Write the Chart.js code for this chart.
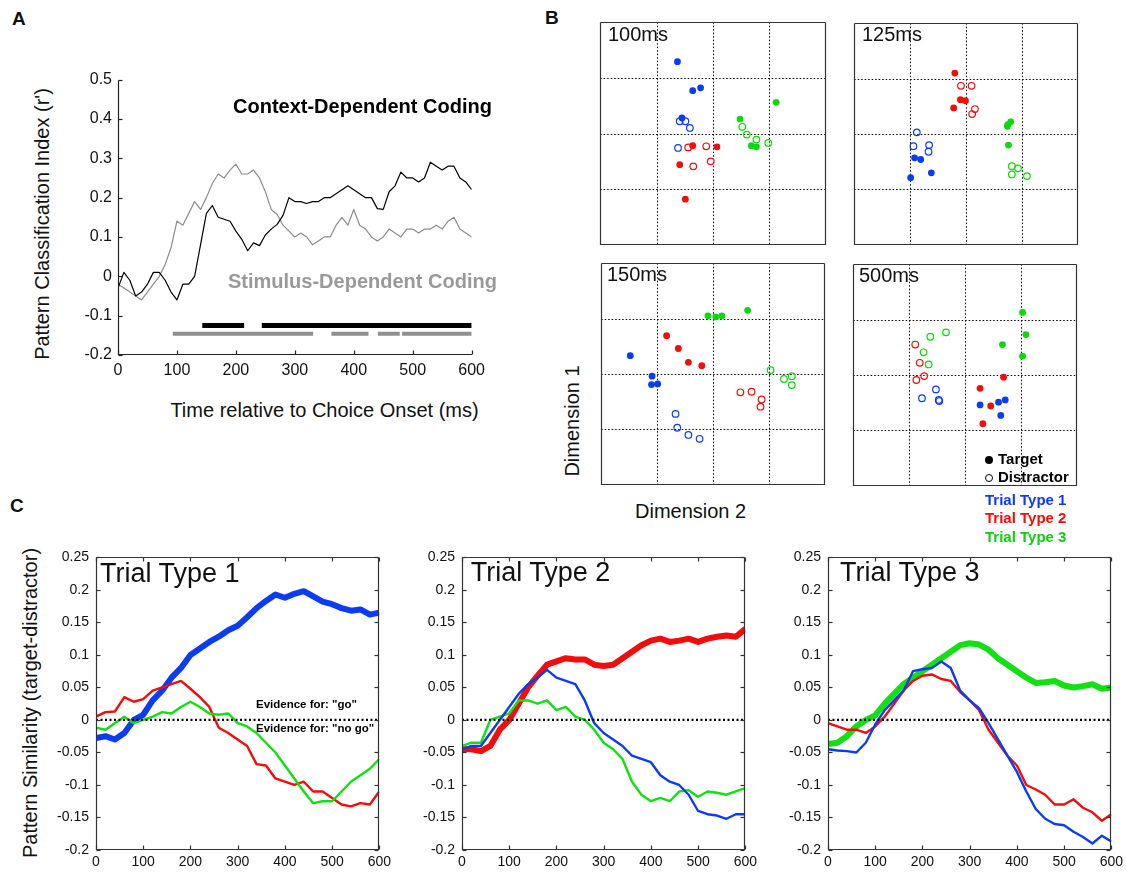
<!DOCTYPE html>
<html>
<head>
<meta charset="utf-8">
<script src="https://cdn.jsdelivr.net/npm/chart.js@4.4.0/dist/chart.umd.min.js"></script>
<style>
body { margin: 0; background: #fff; width: 1126px; height: 874px; position: relative; overflow: hidden;
  font-family: "Liberation Sans", Arial, sans-serif; color: #111; }
canvas { position: absolute; }
.t { position: absolute; white-space: nowrap; line-height: 1; }
.dot { position: absolute; width: 8px; height: 8px; border-radius: 50%; box-sizing: border-box; }
</style>
</head>
<body>
<canvas id="pA"></canvas>
<canvas id="b100"></canvas>
<canvas id="b125"></canvas>
<canvas id="b150"></canvas>
<canvas id="b500"></canvas>
<canvas id="c1"></canvas>
<canvas id="c2"></canvas>
<canvas id="c3"></canvas>
<script>
const FONT = '"Liberation Sans", Arial, sans-serif';
const BLUE = '#0c3cf2', RED = '#f20d0d', GREEN = '#12e012', GRAY = '#8c8c8c';

// ---- panel A ----
const timeA = [0, 10, 20, 30, 40, 50, 60, 70, 80, 90, 100, 110, 120, 130, 140, 150, 160, 170, 180, 190,
  200, 210, 220, 230, 240, 250, 260, 270, 280, 290, 300, 310, 320, 330, 340, 350, 360, 370, 380, 390,
  400, 410, 420, 430, 440, 450, 460, 470, 480, 490, 500, 510, 520, 530, 540, 550, 560, 570, 580, 590, 600];
const contextA = [-0.03, 0.01, -0.01, -0.05, -0.04, -0.02, 0.01, 0.01, -0.01, -0.04, -0.06, -0.02, -0.02, 0.0, 0.08, 0.16, 0.18, 0.15, 0.145, 0.14,
  0.115, 0.094, 0.065, 0.085, 0.078, 0.105, 0.12, 0.132, 0.155, 0.2, 0.19, 0.19, 0.185, 0.19, 0.19, 0.2, 0.2, 0.21, 0.22, 0.23,
  0.22, 0.21, 0.2, 0.2, 0.172, 0.17, 0.215, 0.23, 0.265, 0.25, 0.25, 0.24, 0.25, 0.29, 0.28, 0.27, 0.28, 0.28, 0.25, 0.24, 0.22];
const stimulusA = [-0.02, -0.03, -0.04, -0.05, -0.06, -0.04, -0.02, 0.0, 0.03, 0.073, 0.14, 0.13, 0.16, 0.19, 0.17, 0.2, 0.236, 0.26, 0.25, 0.27,
  0.285, 0.26, 0.26, 0.27, 0.25, 0.215, 0.17, 0.157, 0.13, 0.115, 0.1, 0.11, 0.1, 0.08, 0.09, 0.1, 0.1, 0.13, 0.15, 0.13,
  0.17, 0.13, 0.12, 0.1, 0.09, 0.1, 0.12, 0.11, 0.1, 0.12, 0.12, 0.11, 0.12, 0.12, 0.13, 0.12, 0.14, 0.15, 0.12, 0.11, 0.1];
const sigContext = [[143, 214], [244, 600]];
const sigStimulus = [[93, 331], [362, 425], [441, 478], [482, 600]];
const xTicksA = [0, 100, 200, 300, 400, 500, 600];
const yTicksA = [-0.2, -0.1, 0, 0.1, 0.2, 0.3, 0.4, 0.5];

// ---- panel B (x = Dimension 2, y = Dimension 1) ----
const b100Target1 = [[-0.63, 1.29], [-0.36, 0.77], [-0.22, 0.82], [-0.55, 0.28]];
const b100Distr1 = [[-0.59, 0.22], [-0.49, 0.22], [-0.41, 0.1], [-0.62, -0.26]];
const b100Target2 = [[-0.36, -0.22], [0.07, -0.24], [-0.59, -0.56], [-0.49, -1.18]];
const b100Distr2 = [[-0.44, -0.25], [-0.12, -0.23], [-0.04, -0.5], [-0.35, -0.59]];
const b100Target3 = [[1.12, 0.56], [0.48, 0.26], [0.68, -0.22], [0.77, -0.24]];
const b100Distr3 = [[0.52, 0.12], [0.6, -0.02], [0.77, -0.11], [0.98, -0.17]];

const b125Target1 = [[-0.92, -0.43], [-0.81, -0.46], [-0.99, -0.79], [-0.62, -0.7]];
const b125Distr1 = [[-0.88, 0.03], [-0.94, -0.22], [-0.66, -0.2], [-0.67, -0.32]];
const b125Target2 = [[-0.2, 1.1], [-0.1, 0.62], [-0.01, 0.6], [-0.22, 0.47]];
const b125Distr2 = [[-0.09, 0.87], [0.1, 0.87], [0.16, 0.45], [0.11, 0.36]];
const b125Target3 = [[0.8, 0.22], [0.75, 0.17], [0.74, 0.14], [0.76, -0.2]];
const b125Distr3 = [[0.82, -0.58], [0.93, -0.62], [0.82, -0.73], [1.09, -0.76]];

const b150Target1 = [[-1.48, 0.33], [-1.09, -0.04], [-1.1, -0.19], [-0.99, -0.18]];
const b150Distr1 = [[-0.67, -0.72], [-0.64, -0.97], [-0.44, -1.1], [-0.24, -1.17]];
const b150Target2 = [[-0.83, 0.69], [-0.62, 0.46], [-0.44, 0.21], [-0.2, 0.15]];
const b150Distr2 = [[0.49, -0.33], [0.69, -0.32], [0.87, -0.46], [0.85, -0.59]];
const b150Target3 = [[-0.09, 1.05], [0.05, 1.03], [0.16, 1.05], [0.62, 1.15]];
const b150Distr3 = [[1.03, 0.07], [1.27, -0.09], [1.41, -0.04], [1.41, -0.2]];

const b500Target1 = [[0.27, -0.54], [0.6, -0.49], [0.72, -0.45], [0.64, -0.73]];
const b500Distr1 = [[-0.52, -0.26], [-0.77, -0.42], [-0.47, -0.45], [-0.46, -0.47]];
const b500Target2 = [[0.69, -0.04], [0.27, -0.24], [0.46, -0.56], [0.32, -0.88]];
const b500Distr2 = [[-0.89, 0.55], [-0.81, 0.22], [-0.73, -0.02], [-0.87, -0.09]];
const b500Target3 = [[1.03, 1.13], [1.09, 0.73], [0.67, 0.55], [1.03, 0.34]];
const b500Distr3 = [[-0.34, 0.77], [-0.62, 0.69], [-0.74, 0.41], [-0.65, 0.19]];
const gridB = [-1, 0, 1];

// ---- panel C ----
const timeC = [0, 20, 40, 60, 80, 100, 120, 140, 160, 180, 200, 220, 240, 260, 280, 300,
  320, 340, 360, 380, 400, 420, 440, 460, 480, 500, 520, 540, 560, 580, 600];
const c1Type1 = [-0.028, -0.025, -0.03, -0.02, 0.0, 0.008, 0.03, 0.045, 0.065, 0.08, 0.1, 0.11, 0.12, 0.128, 0.138, 0.145,
  0.158, 0.172, 0.183, 0.193, 0.188, 0.194, 0.198, 0.19, 0.182, 0.178, 0.172, 0.168, 0.17, 0.162, 0.165];
const c1Type2 = [0.005, 0.012, 0.013, 0.035, 0.028, 0.032, 0.045, 0.05, 0.055, 0.06, 0.048, 0.035, 0.02, -0.012, -0.02, -0.03,
  -0.04, -0.068, -0.07, -0.09, -0.095, -0.1, -0.095, -0.11, -0.11, -0.12, -0.13, -0.133, -0.128, -0.13, -0.11];
const c1Type3 = [-0.012, -0.015, -0.005, 0.005, -0.005, 0.0, 0.005, 0.012, 0.01, 0.02, 0.028, 0.02, 0.01, 0.008, 0.01, -0.005,
  -0.01, -0.02, -0.035, -0.05, -0.07, -0.09, -0.11, -0.128, -0.125, -0.125, -0.11, -0.095, -0.085, -0.075, -0.06];
const c2Type1 = [-0.045, -0.04, -0.04, -0.02, 0.0, 0.02, 0.04, 0.055, 0.065, 0.077, 0.065, 0.06, 0.055, 0.03, -0.005, -0.02,
  -0.03, -0.04, -0.055, -0.06, -0.065, -0.085, -0.095, -0.1, -0.115, -0.14, -0.145, -0.147, -0.152, -0.145, -0.145];
const c2Type2 = [-0.045, -0.045, -0.048, -0.04, -0.015, 0.0, 0.025, 0.05, 0.068, 0.085, 0.09, 0.095, 0.093, 0.093, 0.085, 0.083,
  0.085, 0.095, 0.105, 0.115, 0.122, 0.125, 0.12, 0.122, 0.125, 0.12, 0.125, 0.128, 0.13, 0.128, 0.14];
const c2Type3 = [-0.04, -0.035, -0.035, 0.0, 0.005, 0.01, 0.03, 0.03, 0.025, 0.03, 0.015, 0.02, 0.005, 0.0, -0.015, -0.035,
  -0.045, -0.06, -0.095, -0.115, -0.125, -0.12, -0.125, -0.11, -0.108, -0.118, -0.11, -0.112, -0.115, -0.11, -0.105];
const c3Type1 = [-0.045, -0.047, -0.048, -0.05, -0.035, -0.007, 0.015, 0.03, 0.045, 0.075, 0.078, 0.08, 0.09, 0.08, 0.045, 0.03,
  0.018, -0.005, -0.03, -0.055, -0.08, -0.11, -0.137, -0.152, -0.16, -0.162, -0.172, -0.18, -0.19, -0.178, -0.187];
const c3Type2 = [-0.005, -0.01, -0.015, -0.015, -0.02, -0.01, 0.005, 0.025, 0.045, 0.06, 0.068, 0.07, 0.063, 0.06, 0.043, 0.03,
  0.015, -0.015, -0.035, -0.055, -0.07, -0.1, -0.107, -0.115, -0.13, -0.13, -0.122, -0.135, -0.142, -0.155, -0.145];
const c3Type3 = [-0.037, -0.035, -0.025, -0.01, 0.0, 0.007, 0.025, 0.04, 0.055, 0.065, 0.075, 0.085, 0.095, 0.105, 0.115, 0.118,
  0.116, 0.108, 0.095, 0.085, 0.075, 0.065, 0.057, 0.058, 0.06, 0.053, 0.05, 0.052, 0.055, 0.048, 0.05];
const xTicksC = [0, 100, 200, 300, 400, 500, 600];
const yTicksC = [-0.2, -0.15, -0.1, -0.05, 0, 0.05, 0.1, 0.15, 0.2, 0.25];

// ---------------------------------------------------------------
Chart.defaults.font.family = FONT;
Chart.defaults.animation = false;

// draws frame, inward ticks and dotted grid
const framePlugin = {
  id: 'frame',
  beforeDatasetsDraw(chart, args, o) {
    if (!o.grid) return;
    const { ctx, chartArea: a, scales: { x, y } } = chart;
    ctx.save();
    ctx.strokeStyle = '#000';
    ctx.lineWidth = 1;
    ctx.setLineDash([1.5, 2]);
    o.grid.forEach(v => {
      const px = Math.round(x.getPixelForValue(v)) + 0.5;
      const py = Math.round(y.getPixelForValue(v)) + 0.5;
      ctx.beginPath(); ctx.moveTo(px, a.top); ctx.lineTo(px, a.bottom); ctx.stroke();
      ctx.beginPath(); ctx.moveTo(a.left, py); ctx.lineTo(a.right, py); ctx.stroke();
    });
    ctx.restore();
  },
  afterDatasetsDraw(chart, args, o) {
    if (!o.sides) return;
    const { ctx, chartArea: a, scales: { x, y } } = chart;
    const s = o.sides;
    ctx.save();
    ctx.strokeStyle = o.color || '#222';
    ctx.lineWidth = o.width || 1;
    const seg = (x1, y1, x2, y2) => { ctx.beginPath(); ctx.moveTo(x1, y1); ctx.lineTo(x2, y2); ctx.stroke(); };
    const L = Math.round(a.left) + 0.5, R = Math.round(a.right) - 0.5;
    const T = Math.round(a.top) + 0.5, B = Math.round(a.bottom) - 0.5;
    if (s.includes('l')) seg(L, T, L, B + 0.5);
    if (s.includes('r')) seg(R, T, R, B + 0.5);
    if (s.includes('t')) seg(L, T, R, T);
    if (s.includes('b')) seg(L - 0.5, B, R + 0.5, B);
    if (o.tick) {
      const k = o.tick;
      x.ticks.forEach(t => {
        const px = Math.round(x.getPixelForValue(t.value)) + 0.5;
        if (s.includes('b')) seg(px, B, px, B - k);
        if (s.includes('t')) seg(px, T, px, T + k);
      });
      y.ticks.forEach(t => {
        const py = Math.round(y.getPixelForValue(t.value)) + 0.5;
        if (s.includes('l')) seg(L, py, L + k, py);
        if (s.includes('r')) seg(R, py, R - k, py);
      });
    }
    ctx.restore();
  }
};
Chart.register(framePlugin);

function place(id, L, T, W, H, p) {
  const c = document.getElementById(id);
  c.width = W + p.l + p.r;
  c.height = H + p.t + p.b;
  c.style.left = (L - p.l) + 'px';
  c.style.top = (T - p.t) + 'px';
  c.style.width = c.width + 'px';
  c.style.height = c.height + 'px';
  return c;
}

function xy(xs, ys) { return xs.map((x, i) => ({ x: x, y: ys[i] })); }
function pairs(arr) { return arr.map(p => ({ x: p[0], y: p[1] })); }

function lineAxes(xr, yr, xt, yt, fs, p, xpad, ypad) {
  return {
    x: {
      type: 'linear', min: xr[0], max: xr[1],
      afterBuildTicks: s => { s.ticks = xt.map(v => ({ value: v })); },
      afterFit: s => { s.height = p.b; },
      grid: { display: false, drawTicks: false }, border: { display: false },
      ticks: { autoSkip: false, maxRotation: 0, padding: xpad, color: '#111', font: { size: fs }, callback: v => String(v) }
    },
    y: {
      type: 'linear', min: yr[0], max: yr[1],
      afterBuildTicks: s => { s.ticks = yt.map(v => ({ value: v })); },
      afterFit: s => { s.width = p.l; },
      grid: { display: false, drawTicks: false }, border: { display: false },
      ticks: { autoSkip: false, padding: ypad, color: '#111', font: { size: fs }, callback: v => String(v) }
    }
  };
}

function lineSet(data, color, width, dash) {
  return { data: data, borderColor: color, borderWidth: width, pointRadius: 0, tension: 0,
    borderJoinStyle: 'round', borderCapStyle: 'butt', borderDash: dash || [], fill: false };
}

// ---- panel A chart ----
{
  const p = { l: 60, t: 12, r: 18, b: 40 };
  const c = place('pA', 118, 76, 355, 279, p);
  const sets = [
    lineSet(xy(timeA, contextA), '#000', 1.2),
    lineSet(xy(timeA, stimulusA), GRAY, 1.2)
  ];
  sigContext.forEach(r => sets.push(lineSet([{ x: r[0], y: -0.125 }, { x: r[1], y: -0.125 }], '#000', 5)));
  sigStimulus.forEach(r => sets.push(lineSet([{ x: r[0], y: -0.146 }, { x: r[1], y: -0.146 }], '#8f8f8f', 4)));
  new Chart(c, {
    type: 'line',
    data: { datasets: sets },
    options: {
      responsive: false, events: [],
      layout: { padding: { left: 0, top: p.t, right: p.r, bottom: 0 } },
      scales: lineAxes([0, 600], [-0.2, 0.5], xTicksA, yTicksA, 16, p, 6, 6),
      plugins: { legend: { display: false }, tooltip: { enabled: false },
        frame: { sides: 'lb', tick: 4, color: '#222', width: 1.2 } }
    }
  });
}

// ---- panel B charts ----
function scatterPanel(id, L, T, W, H, t1, d1, t2, d2, t3, d3) {
  const p = { l: 2, t: 2, r: 2, b: 2 };
  const c = place(id, L, T, W, H, p);
  const filled = (d, col) => ({ data: pairs(d), backgroundColor: col, borderColor: col, borderWidth: 0, pointRadius: 3.4 });
  const open = (d, col) => ({ data: pairs(d), backgroundColor: 'rgba(255,255,255,0)', borderColor: col, borderWidth: 1.2, pointRadius: 3.3 });
  new Chart(c, {
    type: 'scatter',
    data: { datasets: [filled(t1, BLUE), open(d1, BLUE), filled(t2, RED), open(d2, RED), filled(t3, '#0bd90b'), open(d3, '#0bd90b')] },
    options: {
      responsive: false, events: [],
      layout: { padding: 2 },
      scales: { x: { display: false, min: -2, max: 2 }, y: { display: false, min: -2, max: 2 } },
      plugins: { legend: { display: false }, tooltip: { enabled: false },
        frame: { sides: 'lrtb', grid: gridB, color: '#333', width: 1.2 } }
    }
  });
}
scatterPanel('b100', 597, 19, 232, 229, b100Target1, b100Distr1, b100Target2, b100Distr2, b100Target3, b100Distr3);
scatterPanel('b125', 851, 20, 230, 228, b125Target1, b125Distr1, b125Target2, b125Distr2, b125Target3, b125Distr3);
scatterPanel('b150', 598, 260, 230, 228, b150Target1, b150Distr1, b150Target2, b150Distr2, b150Target3, b150Distr3);
scatterPanel('b500', 850, 261, 230, 228, b500Target1, b500Distr1, b500Target2, b500Distr2, b500Target3, b500Distr3);

// ---- panel C charts ----
function simPanel(id, L, main, others) {
  const p = { l: 50, t: 10, r: 14, b: 30 };
  const c = place(id, L, 552, 285, 298, p);
  const sets = [lineSet([{ x: 0, y: 0 }, { x: 600, y: 0 }], '#000', 2.2, [2, 2.5])];
  others.forEach(o => sets.push(lineSet(xy(timeC, o[0]), o[1], 2.4)));
  sets.push(lineSet(xy(timeC, main[0]), main[1], 6));
  new Chart(c, {
    type: 'line',
    data: { datasets: sets },
    options: {
      responsive: false, events: [],
      layout: { padding: { left: 0, top: p.t, right: p.r, bottom: 0 } },
      scales: lineAxes([0, 600], [-0.2, 0.25], xTicksC, yTicksC, 14, p, 4, 7),
      plugins: { legend: { display: false }, tooltip: { enabled: false },
        frame: { sides: 'lrtb', tick: 4, color: '#333', width: 1.2 } }
    }
  });
}
simPanel('c1', 96, [c1Type1, BLUE], [[c1Type3, GREEN], [c1Type2, RED]]);
simPanel('c2', 462, [c2Type2, RED], [[c2Type1, BLUE], [c2Type3, GREEN]]);
simPanel('c3', 828, [c3Type3, GREEN], [[c3Type1, BLUE], [c3Type2, RED]]);

// ---- text ----
function txt(s, x, base, fs, o) {
  o = o || {};
  const d = document.createElement('div');
  d.className = 't';
  d.textContent = s;
  d.style.left = x + 'px';
  d.style.top = (base - 0.8465 * fs) + 'px';
  d.style.fontSize = fs + 'px';
  if (o.bold) d.style.fontWeight = 'bold';
  if (o.color) d.style.color = o.color;
  if (o.center) d.style.transform = 'translateX(-50%)';
  document.body.appendChild(d);
}
function vtxt(s, cx, cy, fs) {
  const d = document.createElement('div');
  d.className = 't';
  d.textContent = s;
  d.style.left = cx + 'px';
  d.style.top = cy + 'px';
  d.style.fontSize = fs + 'px';
  d.style.transform = 'translate(-50%, -50%) rotate(-90deg)';
  document.body.appendChild(d);
}
function dot(cx, cy, filled) {
  const d = document.createElement('div');
  d.className = 'dot';
  d.style.left = (cx - 4) + 'px';
  d.style.top = (cy - 4) + 'px';
  d.style.background = filled ? '#000' : 'transparent';
  d.style.border = filled ? 'none' : '1.3px solid #000';
  document.body.appendChild(d);
}

txt('A', 12, 25, 19, { bold: true });
txt('B', 545, 24, 19, { bold: true });
txt('C', 10, 512, 19, { bold: true });
txt('Context-Dependent Coding', 233, 113, 20, { bold: true, color: '#000' });
txt('Stimulus-Dependent Coding', 228, 288, 20, { bold: true, color: '#999' });
vtxt("Pattern Classification Index (r')", 42, 224, 20);
txt('Time relative to Choice Onset (ms)', 324.5, 417, 20, { center: true });

txt('100ms', 608, 40.5, 20);
txt('125ms', 862, 40.7, 20);
txt('150ms', 607, 281, 20);
txt('500ms', 859, 281.5, 20);
vtxt('Dimension 1', 572, 421, 20);
txt('Dimension 2', 635, 518, 20);

dot(989, 460, true);
dot(989, 478, false);
txt('Target', 998, 464, 15, { bold: true, color: '#000' });
txt('Distractor', 998, 482, 15, { bold: true, color: '#000' });
txt('Trial Type 1', 985, 505, 15, { bold: true, color: BLUE });
txt('Trial Type 2', 985, 523, 15, { bold: true, color: RED });
txt('Trial Type 3', 985, 542, 15, { bold: true, color: '#12cc12' });

txt('Trial Type 1', 100, 582.5, 27);
txt('Trial Type 2', 470.7, 581.7, 27);
txt('Trial Type 3', 840, 581.7, 27);
txt('Evidence for: "go"', 256, 709, 11.5, { bold: true, color: '#000' });
txt('Evidence for: "no go"', 256, 733, 11.5, { bold: true, color: '#000' });
vtxt('Pattern Similarity (target-distractor)', 29.5, 703, 20);
</script>
</body>
</html>
